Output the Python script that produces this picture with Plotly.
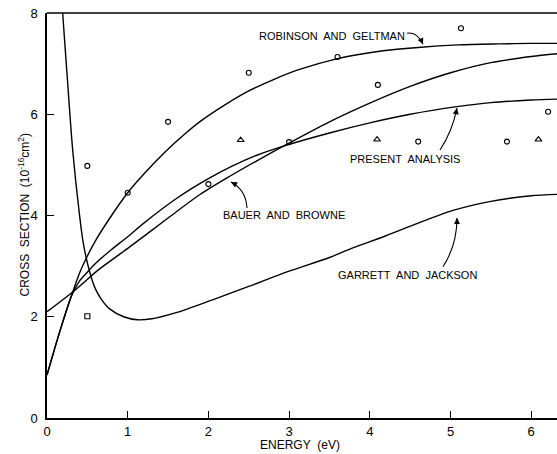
import plotly.graph_objects as go

# ---------------- data ----------------
rob_x = [0.0, 0.1, 0.2, 0.3, 0.4, 0.5, 0.6, 0.8, 1.0, 1.2, 1.46, 1.7, 1.9, 2.2, 2.5, 2.8, 3.1, 3.6, 4.1, 4.6, 5.1, 5.6, 6.0, 6.35]
rob_y = [0.85, 1.4, 1.92, 2.4, 2.85, 3.2, 3.5, 4.0, 4.45, 4.82, 5.25, 5.6, 5.86, 6.18, 6.46, 6.68, 6.87, 7.1, 7.24, 7.32, 7.37, 7.39, 7.40, 7.40]

pres_x = [0.0, 0.1, 0.2, 0.3, 0.4, 0.5, 0.6, 0.8, 1.0, 1.2, 1.4, 1.6, 1.8, 2.0, 2.3, 2.6, 2.93, 3.5, 4.0, 4.5, 5.08, 5.5, 6.0, 6.35]
pres_y = [0.85, 1.4, 1.92, 2.4, 2.7, 2.88, 3.05, 3.33, 3.58, 3.85, 4.1, 4.33, 4.54, 4.73, 4.98, 5.19, 5.37, 5.63, 5.83, 6.0, 6.15, 6.23, 6.28, 6.30]

bauer_x = [0.0, 0.35, 0.64, 1.0, 1.5, 1.9, 2.27, 2.6, 2.93, 3.5, 4.0, 4.5, 5.0, 5.5, 6.0, 6.35]
bauer_y = [2.1, 2.53, 2.93, 3.35, 3.95, 4.42, 4.78, 5.08, 5.37, 5.85, 6.22, 6.55, 6.82, 7.02, 7.14, 7.20]

gj_x = [0.15, 0.194, 0.25, 0.318, 0.4, 0.45, 0.53, 0.6, 0.68, 0.78, 0.95, 1.12, 1.3, 1.6, 2.06, 2.5, 3.0, 3.5, 3.79, 4.2, 4.6, 5.03, 5.5, 6.0, 6.35]
gj_y = [9.0, 8.0, 6.75, 5.3, 4.05, 3.45, 2.88, 2.55, 2.33, 2.15, 2.0, 1.94, 1.96, 2.08, 2.34, 2.6, 2.9, 3.17, 3.36, 3.6, 3.85, 4.1, 4.28, 4.39, 4.42]

circ_x = [0.5, 1.0, 1.5, 2.0, 2.5, 3.0, 3.6, 4.1, 4.6, 5.13, 5.7, 6.21]
circ_y = [4.98, 4.45, 5.85, 4.62, 6.82, 5.45, 7.13, 6.58, 5.46, 7.70, 5.46, 6.05]

tri_x = [2.4, 4.09, 6.09]
tri_y = [5.49, 5.50, 5.50]

sq_x = [0.5]
sq_y = [2.01]

x_ticks = [0, 1, 2, 3, 4, 5, 6]
y_ticks = [0, 2, 4, 6, 8]

labels = ["ROBINSON\u00a0 AND\u00a0 GELTMAN", "PRESENT\u00a0 ANALYSIS",
          "BAUER\u00a0 AND\u00a0 BROWNE", "GARRETT\u00a0 AND\u00a0 JACKSON"]
x_title = "ENERGY\u00a0 (eV)"
y_title = "CROSS\u00a0 SECTION\u00a0 (10<sup>-16</sup>cm<sup>2</sup>)"

# ---------------- geometry ----------------
W, H = 557, 454
# plot area in page pixels
PL, PR, PT, PB = 47, 557, 12.7, 418.5
ML, MR, MT, MB = PL, W - PR, PT, H - PB
X_MAX = (PR - PL) / 80.7
Y_MAX = 8

def P(px, py):
    """page pixel position -> data coordinates"""
    return (px - PL) / (PR - PL) * X_MAX, (PB - py) / (PB - PT) * Y_MAX

def Q(px, py):
    """page pixel position -> paper coordinates"""
    return (px - PL) / (PR - PL), (PB - py) / (PB - PT)

FONT = "Liberation Sans, Arial, sans-serif"
line_style = dict(color="black", width=1.4, shape="spline", smoothing=0.8)

fig = go.Figure()
for xs, ys, nm in [(rob_x, rob_y, "Robinson and Geltman"), (pres_x, pres_y, "Present analysis"),
                   (bauer_x, bauer_y, "Bauer and Browne"), (gj_x, gj_y, "Garrett and Jackson")]:
    fig.add_trace(go.Scatter(x=xs, y=ys, mode="lines", line=line_style, name=nm, hoverinfo="skip"))

mk_line = dict(color="black", width=1.1)
fig.add_trace(go.Scatter(x=circ_x, y=circ_y, mode="markers",
                         marker=dict(symbol="circle-open", size=5, line=mk_line, color="black")))
fig.add_trace(go.Scatter(x=tri_x, y=tri_y, mode="markers",
                         marker=dict(symbol="triangle-up-open", size=6, line=mk_line, color="black")))
fig.add_trace(go.Scatter(x=sq_x, y=sq_y, mode="markers",
                         marker=dict(symbol="square-open", size=5, line=mk_line, color="black")))

# labels
label_pos = [(331.7, 36), (405, 159), (283.5, 215), (407.5, 275)]
annotations = []
for txt, (px, py) in zip(labels, label_pos):
    x, y = P(px, py)
    annotations.append(dict(x=x, y=y, xref="x", yref="y", text=txt, showarrow=False,
                            xanchor="center", yanchor="middle",
                            font=dict(family=FONT, size=11, color="black")))

# axis titles
tx, ty = Q(300, 446)
annotations.append(dict(x=tx, y=ty, xref="paper", yref="paper", text=x_title, showarrow=False,
                        xanchor="center", yanchor="middle",
                        font=dict(family=FONT, size=12, color="black")))
tx, ty = Q(23, (PT + PB) / 2)
annotations.append(dict(x=tx, y=ty, xref="paper", yref="paper", text=y_title, textangle=-90,
                        showarrow=False, xanchor="center", yanchor="middle",
                        font=dict(family=FONT, size=12, color="black")))

# curved arrow stems (quadratic paths) + arrowheads
arrows = [
    ((407, 33), (417, 31), (423, 44)),
    ((440, 150), (452, 132), (457, 108)),
    ((247, 208), (246, 190), (231, 182)),
    ((443, 267), (457, 245), (457, 218)),
]
shapes = []
for (s, c, e) in arrows:
    sx, sy = P(*s); cx, cy = P(*c); ex, ey = P(*e)
    shapes.append(dict(type="path", xref="x", yref="y",
                       path=f"M {sx},{sy} Q {cx},{cy} {ex},{ey}",
                       line=dict(color="black", width=1.1)))
    dx, dy = e[0] - c[0], e[1] - c[1]
    n = (dx * dx + dy * dy) ** 0.5
    annotations.append(dict(x=ex, y=ey, xref="x", yref="y", text="", showarrow=True,
                            ax=-dx / n * 6, ay=-dy / n * 6, arrowhead=2, arrowsize=1.1,
                            arrowwidth=1.1, arrowcolor="black", standoff=0))

# top frame line
shapes.append(dict(type="line", xref="paper", yref="paper", x0=0, x1=1, y0=1, y1=1,
                   line=dict(color="black", width=1.5), layer="above"))

fig.update_layout(
    width=W, height=H,
    margin=dict(l=ML, r=MR, t=MT, b=MB, pad=0, autoexpand=False),
    paper_bgcolor="white", plot_bgcolor="white",
    showlegend=False,
    annotations=annotations, shapes=shapes,
    font=dict(family=FONT, color="black"),
    xaxis=dict(range=[0, X_MAX], tickvals=x_ticks, ticktext=[str(v) for v in x_ticks],
               ticks="inside", ticklen=7, tickwidth=1.2, tickcolor="black", automargin=False,
               showline=True, linecolor="black", linewidth=1.5, showgrid=False, zeroline=False,
               tickfont=dict(size=13, family=FONT), ticklabelstandoff=1),
    yaxis=dict(range=[0, Y_MAX], tickvals=y_ticks, ticktext=[str(v) for v in y_ticks],
               ticks="inside", ticklen=7, tickwidth=1.2, tickcolor="black", automargin=False,
               showline=True, linecolor="black", linewidth=1.5, showgrid=False, zeroline=False,
               tickfont=dict(size=13, family=FONT), ticklabelstandoff=5),
)

fig.write_html("out.html", config={"displayModeBar": False},
               post_script="document.body.style.margin='0';document.body.style.overflow='hidden';")
